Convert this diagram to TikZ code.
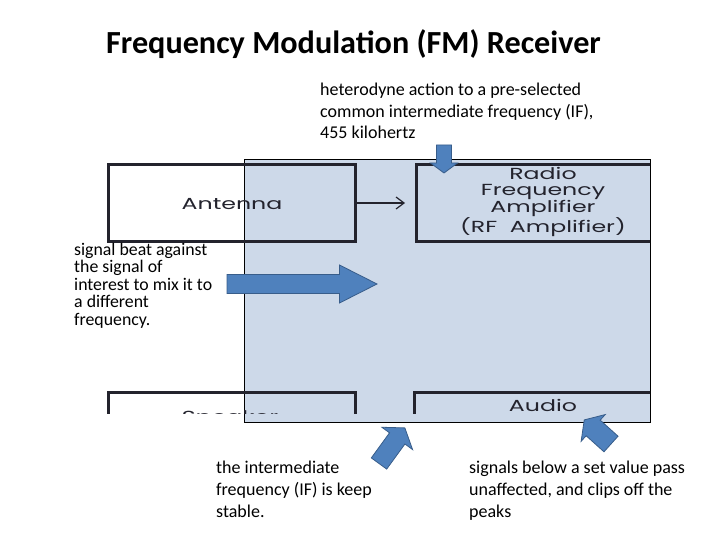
\documentclass[tikz,border=0pt]{standalone}
\usepackage{fontspec}
\setmainfont{Carlito}
\newfontfamily\blockfont{Poppins}
\usetikzlibrary{arrows.meta}
\definecolor{panelblue}{RGB}{205,217,233}
\definecolor{arrowblue}{RGB}{79,129,189}
\definecolor{arrowedge}{RGB}{56,93,138}
\definecolor{blockink}{RGB}{35,35,45}
\tikzset{
    blockbox/.style={draw=blockink,line width=3pt,minimum height=76pt,inner sep=0pt},
    blocktext/.style={text=blockink,font=\blockfont\fontsize{16}{15.5}\selectfont,align=center,xscale=1.48,transform shape},
    note/.style={align=left,anchor=base west,inner sep=0pt},
    bigarrow/.style={fill=arrowblue,draw=arrowedge,line width=0.8pt,line join=miter},
  }
% block arrow: tail, angle, length, head length, shaft width, head width
\newcommand{\blockarrow}[6]{%
  \begin{scope}[shift={#1},rotate=#2]
    \filldraw[bigarrow] (0,{-#5/2}) -- ({#3-#4},{-#5/2}) -- ({#3-#4},{-#6/2}) -- (#3,0)
      -- ({#3-#4},{#6/2}) -- ({#3-#4},{#5/2}) -- (0,{#5/2}) -- cycle;
  \end{scope}}

\begin{document}
\begin{tikzpicture}[x=1pt,y=-1pt]
	          %cadre 720x540, y vers le bas
	          %le schema bloc est coupe a droite (650) et en bas (413)
	          %note: base d'un texte sur plusieurs lignes = ligne du bas
	          \useasboundingbox (0,0) rectangle (720,540);

	          \node[font=\bfseries\fontsize{32.2}{36}\selectfont] (title) at (353.5,44) {Frequency Modulation (FM) Receiver};

	          \filldraw[fill=panelblue,draw=black,line width=0.8pt] (244,159) rectangle (650,422);

	          \begin{scope}
	            \clip (100,150) rectangle (650,413);
	            \node[blockbox,minimum width=247pt] (ant) at (231.5,203) {};
	            \node[blockbox,minimum width=254pt] (rf) at (543,203) {};
	            \node[blockbox,minimum width=247pt] (spk) at (231.5,430) {};
	            \node[blockbox,minimum width=258pt] (aud) at (543,430) {};
	            \node[blocktext] (antlabel) at (232,204) {Antenna};
	            \node[blocktext] (rflabel) at (543,202) {Radio\\Frequency\\Amplifier\\(RF~~Amplifier)};
	            \node[blocktext] (spklabel) at (230,419) {Speaker};
	            \node[blocktext] (audlabel) at (543,405) {Audio};
	            \draw[-{Straight Barb[length=8pt,width=12pt]},line width=1.2pt,blockink,shorten <=0.5pt,shorten >=9.5pt] (ant) -- (rf);
	          \end{scope}

	          \node[note,font=\fontsize{18}{21.5}\selectfont] (hetnote) at (320,139) {heterodyne action to a pre-selected\\common intermediate frequency (IF),\\455 kilohertz};
	          \node[note,font=\fontsize{17.8}{17.5}\selectfont] (beatnote) at (74,325) {signal beat against\\the signal of\\interest to mix it to\\a different\\frequency.};
	          \node[note,font=\fontsize{18}{22}\selectfont] (ifnote) at (216,517) {the intermediate\\frequency (IF) is keep\\stable.};
	          \node[note,font=\fontsize{18}{22}\selectfont] (clipnote) at (469,517) {signals below a set value pass\\unaffected, and clips off the\\peaks};

	          \coordinate (beat) at (227,284);
	          \coordinate (het) at (444,145);
	          \coordinate (ifkeep) at (379,463.5);
	          \coordinate (clip) at (611,444);
	          \blockarrow{(beat)}{0}{150}{37.5}{19}{38}
	          \blockarrow{(het)}{-90}{28}{10}{15}{27}
	          \blockarrow{(ifkeep)}{54}{44}{13}{19}{38}
	          \blockarrow{(clip)}{138}{36}{12}{21}{36}
\end{tikzpicture}
\end{document}
